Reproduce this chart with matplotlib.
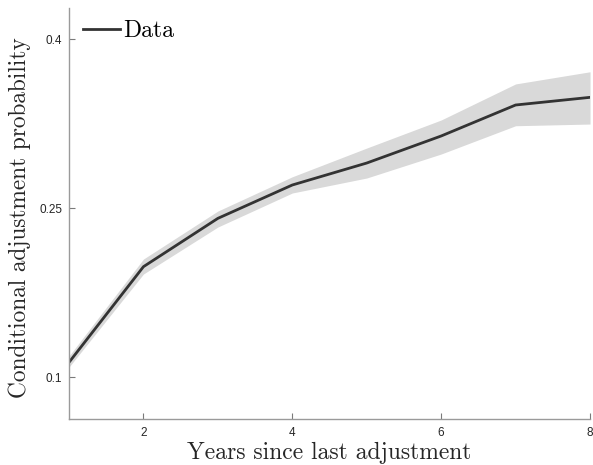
import matplotlib
matplotlib.use("Agg")
import matplotlib.pyplot as plt

years = [1, 2, 3, 4, 5, 6, 7, 8]
prob = [0.1133, 0.1982, 0.2411, 0.2707, 0.2902, 0.3142, 0.3417, 0.3485]
prob_lo = [0.1091, 0.1917, 0.2334, 0.2636, 0.2769, 0.2982, 0.3233, 0.3248]
prob_hi = [0.1189, 0.2050, 0.2476, 0.2780, 0.3035, 0.3284, 0.3604, 0.3712]
xticks = [2, 4, 6, 8]
yticks = [0.1, 0.25, 0.4]
ytick_labels = ["0.1", "0.25", "0.4"]

serif = "cmr10"
plt.rcParams["axes.formatter.use_mathtext"] = True

fig = plt.figure(figsize=(5.93, 4.65), dpi=100)
ax = fig.add_axes([0.1164, 0.0989, 0.8786, 0.8839])

ax.fill_between(years, prob_lo, prob_hi, color="#d9d9d9", linewidth=0)
ax.plot(years, prob, color="#333333", linewidth=2.0, label="Data")

ax.set_xlim(1, 8)
ax.set_ylim(0.063, 0.4278)
ax.set_xticks(xticks)
ax.set_xticklabels([str(t) for t in xticks])
ax.set_yticks(yticks)
ax.set_yticklabels(ytick_labels)

for s in ("top", "right"):
    ax.spines[s].set_visible(False)
for s in ("left", "bottom"):
    ax.spines[s].set_color("#9a9a9a")
    ax.spines[s].set_linewidth(1.0)

ax.tick_params(direction="in", length=4, width=0.8, color="#7a7a7a",
               labelsize=8.5, labelcolor="#262626")
ax.tick_params(axis="x", pad=6)
ax.tick_params(axis="y", pad=5)
for lab in ax.get_xticklabels() + ax.get_yticklabels():
    lab.set_family("Liberation Sans")

ax.set_xlabel("Years since last adjustment", family=serif, fontsize=17,
              color="#262626", labelpad=2)
ax.set_ylabel("Conditional adjustment probability", family=serif, fontsize=16.8,
              color="#262626")
ax.yaxis.set_label_coords(-0.073, 0.489)

leg = ax.legend(loc="upper left", frameon=False, prop={"family": serif, "size": 17},
                handlelength=1.55, handletextpad=0.15, borderaxespad=0.0,
                borderpad=0.4, bbox_to_anchor=(0.009, 0.993))

fig.savefig("out.png", dpi=100)
